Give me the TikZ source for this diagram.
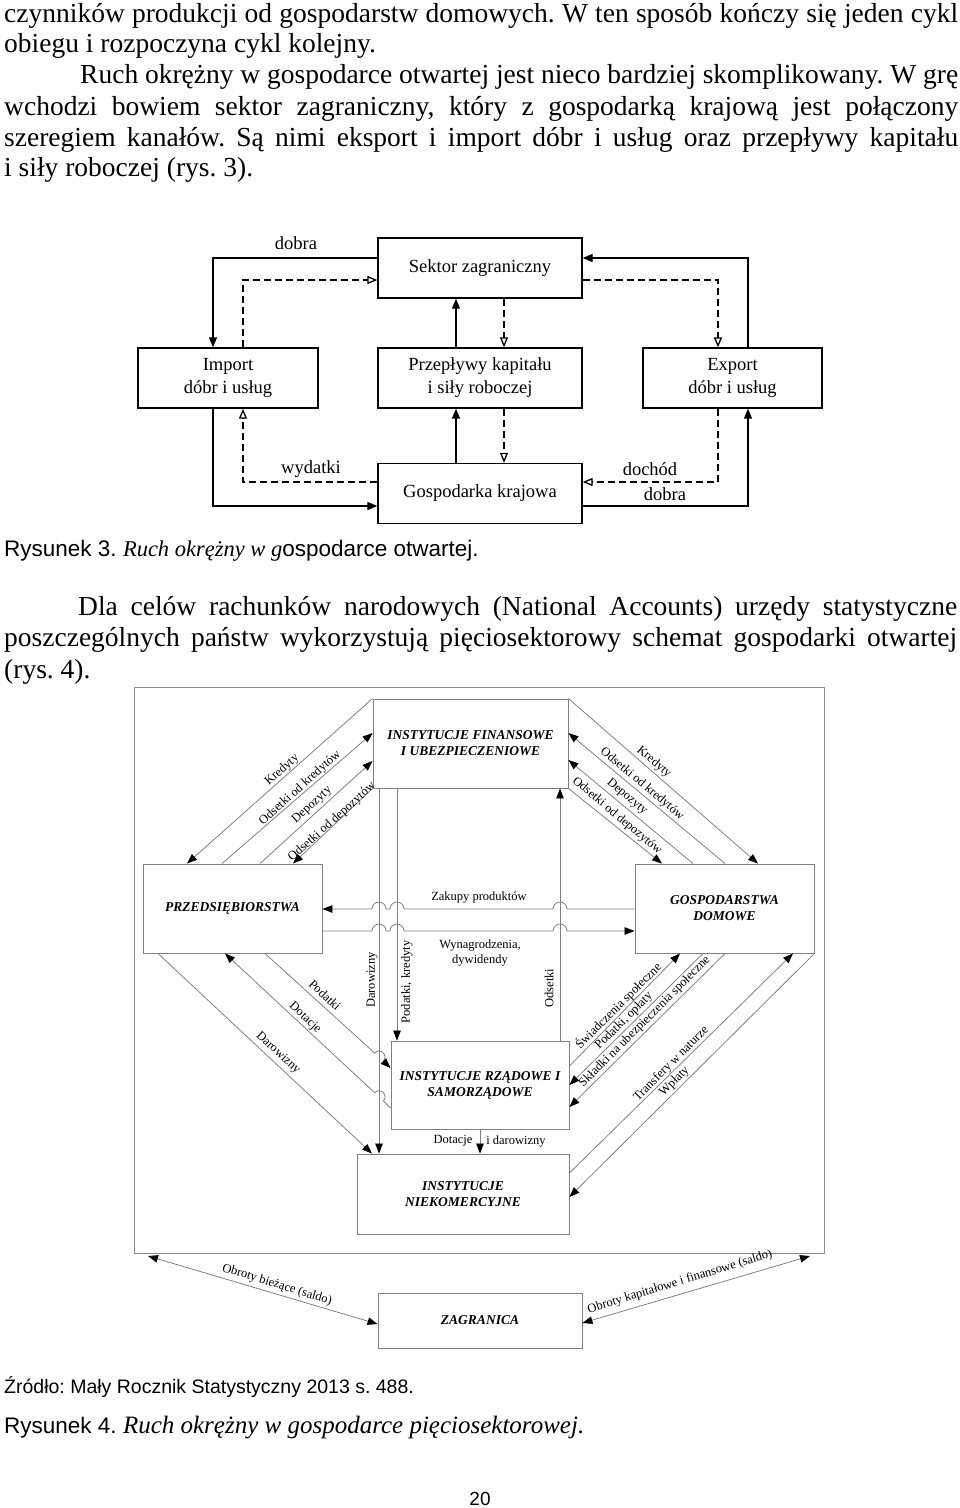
\documentclass[tikz,border=0pt]{standalone}
\usepackage{fontspec}
\setmainfont{Liberation Serif}
\newfontfamily\arialfont{Liberation Sans}
\usetikzlibrary{arrows.meta}
\frenchspacing

\tikzset{
  tekst/.style={inner sep=0pt, anchor=base west, font=\fontsize{27.5}{31}\selectfont},
  podpis/.style={inner sep=0pt, anchor=base west, font=\fontsize{22.5}{26}\selectfont},
  blok/.style={draw, line width=1.3pt, fill=white, align=center, font=\fontsize{18.5}{23}\selectfont, minimum height=60pt, inner sep=2pt},
  pelna/.style={line width=1.3pt, -{Triangle[length=10pt, width=8pt]}},
  przer/.style={line width=1.3pt, dash pattern=on 7pt off 4pt, -{Triangle[open, length=10pt, width=8pt]}},
  opis/.style={font=\fontsize{18.5}{22}\selectfont, inner sep=0pt},
  sektor/.style={draw=black!50, line width=0.9pt, fill=white, align=center, font=\fontsize{13.5}{16}\selectfont\bfseries\itshape, inner sep=2pt},
  grot/.style={Triangle[length=10pt, width=7.5pt, color=black, fill=black]},
  strz/.style={draw=black!50, line width=0.8pt, -{Triangle[length=10pt, width=7.5pt, color=black, fill=black]}},
  strz2/.style={strz, {Triangle[length=10pt, width=7.5pt, color=black, fill=black]}-{Triangle[length=10pt, width=7.5pt, color=black, fill=black]}},
  etyk/.style={font=\fontsize{12.5}{15}\selectfont, inner sep=0pt},
}

\begin{document}
\begin{tikzpicture}[x=1pt, y=-1pt]
    \useasboundingbox (0,0) rectangle (960,1508);

    % Text above
    \node[tekst] (w1) at (4,22) {\makebox[954pt][s]{czynników produkcji od gospodarstw domowych. W ten sposób kończy się jeden cykl}};
    \node[tekst] (w2) at (4,52) {obiegu i rozpoczyna cykl kolejny.};
    \node[tekst] (w3) at (80,83) {\makebox[878pt][s]{Ruch okrężny w gospodarce otwartej jest nieco bardziej skomplikowany. W grę}};
    \node[tekst] (w4) at (4,115) {\makebox[954pt][s]{wchodzi bowiem sektor zagraniczny, który z gospodarką krajową jest połączony}};
    \node[tekst] (w5) at (4,146) {\makebox[954pt][s]{szeregiem kanałów. Są nimi eksport i import dóbr i usług oraz przepływy kapitału}};
    \node[tekst] (w6) at (4,176) {i siły roboczej (rys. 3).};

    % Rys. 3 - boxes
    \node[blok, minimum width=204pt] (sektor) at (480,268) {Sektor zagraniczny};
    \node[blok, minimum width=180pt] (import) at (228,378) {Import\\dóbr i usług};
    \node[blok, minimum width=204pt] (przeplywy) at (480,378) {Przepływy kapitału\\i siły roboczej};
    \node[blok, minimum width=179pt] (eksport) at (732.5,378) {Export\\dóbr i usług};
    \node[blok, minimum width=204pt] (gospodarka) at (480,493.5) {Gospodarka krajowa};

    % Rys. 3 - flows
    \draw[pelna] (sektor.west |- 0,258) -| (import.north -| 213,0);
    \draw[przer] (import.north -| 243,0) |- (sektor.west |- 0,280);
    \draw[pelna] (przeplywy.north -| 456,0) -- (sektor.south -| 456,0);
    \draw[przer] (sektor.south -| 504,0) -- (przeplywy.north -| 504,0);
    \draw[pelna] (gospodarka.north -| 456,0) -- (przeplywy.south -| 456,0);
    \draw[przer] (przeplywy.south -| 504,0) -- (gospodarka.north -| 504,0);
    \draw[pelna] (eksport.north -| 748,0) |- (sektor.east |- 0,258);
    \draw[przer] (sektor.east |- 0,280) -| (eksport.north -| 718,0);
    \draw[pelna] (import.south -| 213,0) |- (gospodarka.west |- 0,506);
    \draw[przer] (gospodarka.west |- 0,482) -| (import.south -| 243,0);
    \draw[przer] (eksport.south -| 718,0) |- (gospodarka.east |- 0,482);
    \draw[pelna] (gospodarka.east |- 0,506) -| (eksport.south -| 748,0);

    \node[opis] (dobra1) at (296,243) {dobra};
    \node[opis] (wydatki) at (311,469) {wydatki};
    \node[opis] (dochod) at (650,469) {dochód};
    \node[opis] (dobra2) at (665,494) {dobra};

    \node[podpis] (rys3) at (4,556) {{\arialfont Rysunek 3. }{\itshape Ruch okrężny w g}{\arialfont ospodarce otwartej.}};

    % Text between figures
    \node[tekst] (v1) at (78,615) {\makebox[879pt][s]{Dla celów rachunków narodowych (National Accounts) urzędy statystyczne}};
    \node[tekst] (v2) at (4,646) {\makebox[953pt][s]{poszczególnych państw wykorzystują pięciosektorowy schemat gospodarki otwartej}};
    \node[tekst] (v3) at (4,678) {(rys. 4).};

    % Rys. 4 - frame
    \draw[black!45, line width=1pt] (134,687) rectangle (824,1253);

    % Rys. 4 - sectors
    \node[sektor, minimum width=195pt, minimum height=89pt] (ifu) at (470.5,743.5) {INSTYTUCJE FINANSOWE\\I UBEZPIECZENIOWE};
    \node[sektor, minimum width=179pt, minimum height=89pt] (prz) at (232.5,908.5) {PRZEDSIĘBIORSTWA};
    \node[sektor, minimum width=179pt, minimum height=89pt] (gd) at (724.5,908.5) {GOSPODARSTWA\\DOMOWE};
    \node[sektor, minimum width=178pt, minimum height=88pt] (irs) at (480,1085) {INSTYTUCJE RZĄDOWE I\\SAMORZĄDOWE};
    \node[sektor, minimum width=212pt, minimum height=80pt] (ink) at (463,1194) {INSTYTUCJE\\NIEKOMERCYJNE};
    \node[sektor, minimum width=204pt, minimum height=55pt] (zag) at (480,1320.5) {ZAGRANICA};

    % financial institutions <-> firms / households
    \draw[strz] (ifu.north west) -- (prz.north -| 187,0);
    \draw[strz] (prz.north -| 222,0) -- (ifu.west |- 0,733);
    \draw[strz] (prz.north -| 260,0) -- (ifu.west |- 0,761);
    \draw[strz] (ifu.south west) -- (prz.north -| 293,0);
    \draw[strz] (ifu.north east) -- (gd.north -| 758,0);
    \draw[strz] (gd.north -| 725,0) -- (ifu.east |- 0,733);
    \draw[strz] (gd.north -| 693,0) -- (ifu.east |- 0,760);
    \draw[strz] (ifu.south east) -- (gd.north -| 662,0);
    \node[etyk, rotate=42] (kred1) at (282,770) {Kredyty};
    \node[etyk, rotate=42] (odskred1) at (300,788) {Odsetki od kredytów};
    \node[etyk, rotate=42] (depo1) at (312,805) {Depozyty};
    \node[etyk, rotate=42] (odsdepo1) at (332,822) {Odsetki od depozytów};
    \node[etyk, rotate=-40] (kred2) at (654,762) {Kredyty};
    \node[etyk, rotate=-40] (odskred2) at (642,784) {Odsetki od kredytów};
    \node[etyk, rotate=-40] (depo2) at (627,797) {Depozyty};
    \node[etyk, rotate=-40] (odsdepo2) at (617,816) {Odsetki od depozytów};

    % vertical flows
    \draw[strz] (ifu.south -| 379,0) -- (ink.north -| 379,0);
    \draw[strz] (ifu.south -| 397,0) -- (irs.north -| 397,0);
    \draw[strz] (irs.north -| 560,0) -- (ifu.south -| 560,0);
    \draw[strz] (irs.south -| 480,0) -- (ink.north -| 480,0);
    \node[etyk, rotate=90] (darow1) at (372,980) {Darowizny};
    \node[etyk, rotate=90] (podkred) at (407,982) {Podatki, kredyty};
    \node[etyk, rotate=90] (odsetki) at (549,988) {Odsetki};
    \node[etyk] (dot1) at (453,1141) {Dotacje};
    \node[etyk] (dot2) at (516,1141) {i darowizny};

    % horizontal flows with hops
    \draw[strz] (gd.west |- 0,909) -- (567,909) arc[start angle=0, end angle=180, radius=7pt]
        -- (404,909) arc[start angle=0, end angle=180, radius=7pt]
        -- (386,909) arc[start angle=0, end angle=180, radius=7pt] -- (prz.east |- 0,909);
    \draw[strz] (prz.east |- 0,931) -- (372,931) arc[start angle=180, end angle=0, radius=7pt]
        -- (390,931) arc[start angle=180, end angle=0, radius=7pt]
        -- (553,931) arc[start angle=180, end angle=0, radius=7pt] -- (gd.west |- 0,931);
    \node[etyk] (zakupy) at (479,897) {Zakupy produktów};
    \node[etyk, align=center] (wynagr) at (480,953) {Wynagrodzenia,\\dywidendy};

    % firms <-> government / non-profit
    \draw[strz] (prz.south -| 265,0) -- (374.6,1053) arc[start angle=137.6, end angle=-42.4, radius=6pt] -- (irs.west |- 0,1068);
    \draw[strz] (irs.west |- 0,1108) -- (383.4,1100.9) arc[start angle=-43, end angle=137, radius=6pt] -- (prz.south -| 225,0);
    \draw[strz] (prz.south -| 158,0) -- (ink.north -| 372,0);
    \node[etyk, rotate=-43] (podatki1) at (325,995) {Podatki};
    \node[etyk, rotate=-43] (dotacje1) at (305,1018) {Dotacje};
    \node[etyk, rotate=-43] (darow2) at (278,1053) {Darowizny};

    % households <-> government / non-profit
    \draw[strz] (irs.east |- 0,1066) -- (gd.south -| 680,0);
    \draw[strz] (gd.south -| 703,0) -- (irs.east |- 0,1085);
    \draw[strz] (gd.south -| 725,0) -- (irs.east |- 0,1107);
    \draw[strz] (ink.east |- 0,1173) -- (gd.south -| 793,0);
    \draw[strz] (gd.south east) -- (ink.east |- 0,1197);
    \node[etyk, rotate=45] (swiadcz) at (618.3,1005.8) {Świadczenia społeczne};
    \node[etyk, rotate=45] (podopl) at (624,1021) {Podatki, opłaty};
    \node[etyk, rotate=45] (skladki) at (644.8,1021.8) {Składki na ubezpieczenia społeczne};
    \node[etyk, rotate=45] (transf) at (671.3,1063.8) {Transfery w naturze};
    \node[etyk, rotate=45] (wplaty) at (674.5,1081.5) {Wpłaty};

    % rest of the world
    \coordinate (rogL) at (148,1256);
    \coordinate (rogP) at (810,1256);
    \draw[strz2] (rogL) -- (zag.west |- 0,1324);
    \draw[strz2] (zag.east |- 0,1323) -- (rogP);
    \node[etyk, rotate=-17] (biezace) at (277,1285) {Obroty bieżące (saldo)};
    \node[etyk, rotate=17] (kapital) at (680,1282) {Obroty kapitałowe i finansowe (saldo)};

    % Source and caption
    \node[inner sep=0pt, anchor=base west, font=\fontsize{19.5}{23}\selectfont\arialfont] (zrodlo) at (4,1393) {Źródło: Mały Rocznik Statystyczny 2013 s. 488.};
    \node[podpis] (rys4) at (4,1433) {{\arialfont Rysunek 4. }{\fontsize{25}{28}\selectfont\itshape Ruch okrężny w gospodarce pięciosektorowej.}};
    \node[inner sep=0pt, anchor=base, font=\fontsize{19}{23}\selectfont\arialfont] (strona) at (480,1505) {20};
\end{tikzpicture}
\end{document}
